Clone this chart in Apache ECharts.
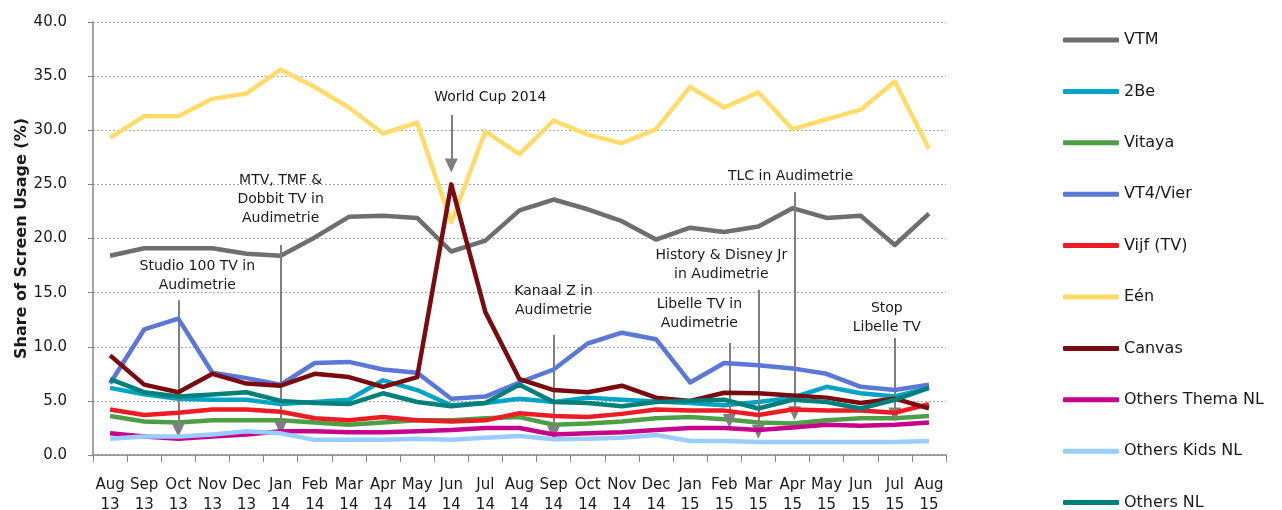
<!DOCTYPE html>
<html>
<head>
<meta charset="utf-8">
<title>Share of Screen Usage</title>
<script src="https://cdn.jsdelivr.net/npm/echarts@6/dist/echarts.min.js"></script>
<style>
  html, body { margin: 0; padding: 0; background: #fff; }
  #chart { width: 1282px; height: 510px; }
</style>
</head>
<body>
<div id="chart"></div>
<script>
// months / years for the x axis (Aug 13 .. Aug 15)
var months = ['Aug', 'Sep', 'Oct', 'Nov', 'Dec', 'Jan', 'Feb', 'Mar', 'Apr', 'May', 'Jun', 'Jul',
  'Aug', 'Sep', 'Oct', 'Nov', 'Dec', 'Jan', 'Feb', 'Mar', 'Apr', 'May', 'Jun', 'Jul', 'Aug']
var years = ['13', '13', '13', '13', '13', '14', '14', '14', '14', '14', '14', '14',
  '14', '14', '14', '14', '14', '15', '15', '15', '15', '15', '15', '15', '15']

var yTicks = [0, 5, 10, 15, 20, 25, 30, 35, 40]

// share of screen usage (%) per channel
var vtm = [18.4, 19.1, 19.1, 19.1, 18.6, 18.4, 20.1, 22.0, 22.1, 21.9, 18.8, 19.8, 22.6, 23.6, 22.7, 21.6, 19.9, 21.0, 20.6, 21.1, 22.8, 21.9, 22.1, 19.4, 22.3]
var twoBe = [6.2, 5.6, 5.2, 5.1, 5.1, 4.7, 4.9, 5.1, 6.9, 6.0, 4.6, 4.8, 5.2, 4.9, 5.3, 5.1, 4.95, 4.8, 4.6, 4.9, 5.3, 6.3, 5.7, 5.4, 6.2]
var vitaya = [3.6, 3.1, 3.0, 3.2, 3.2, 3.2, 3.0, 2.8, 3.0, 3.2, 3.2, 3.4, 3.5, 2.8, 2.9, 3.1, 3.4, 3.5, 3.3, 3.0, 2.9, 3.2, 3.4, 3.4, 3.6]
var vt4 = [6.6, 11.6, 12.6, 7.6, 7.1, 6.5, 8.5, 8.6, 7.9, 7.6, 5.2, 5.4, 6.7, 7.9, 10.3, 11.3, 10.7, 6.7, 8.5, 8.3, 8.0, 7.5, 6.3, 6.0, 6.5]
var vijf = [4.2, 3.7, 3.9, 4.2, 4.2, 4.0, 3.4, 3.2, 3.5, 3.2, 3.1, 3.2, 3.85, 3.6, 3.5, 3.8, 4.2, 4.1, 4.1, 3.7, 4.2, 4.1, 4.1, 3.9, 4.7]
var een = [29.3, 31.3, 31.3, 32.9, 33.4, 35.6, 34.0, 32.1, 29.7, 30.7, 21.5, 29.9, 27.8, 30.9, 29.6, 28.8, 30.1, 34.0, 32.1, 33.5, 30.1, 31.0, 31.9, 34.5, 28.3]
var canvas = [9.2, 6.5, 5.8, 7.5, 6.6, 6.4, 7.5, 7.2, 6.3, 7.2, 25.0, 13.2, 7.0, 6.0, 5.8, 6.4, 5.3, 5.0, 5.75, 5.7, 5.5, 5.3, 4.8, 5.2, 4.3]
var themaNL = [2.0, 1.7, 1.5, 1.7, 1.9, 2.2, 2.2, 2.1, 2.1, 2.2, 2.3, 2.5, 2.5, 1.9, 2.0, 2.1, 2.3, 2.5, 2.5, 2.3, 2.55, 2.8, 2.7, 2.8, 3.0]
var kidsNL = [1.5, 1.7, 1.7, 1.9, 2.2, 2.0, 1.4, 1.4, 1.4, 1.5, 1.4, 1.6, 1.75, 1.45, 1.5, 1.6, 1.85, 1.3, 1.3, 1.2, 1.2, 1.2, 1.2, 1.2, 1.3]
var othersNL = [7.0, 5.8, 5.4, 5.6, 5.8, 5.0, 4.8, 4.7, 5.7, 4.9, 4.5, 4.8, 6.5, 4.9, 4.8, 4.5, 4.9, 5.0, 5.1, 4.3, 5.1, 4.9, 4.3, 5.1, 6.2]

var channels = ['VTM', '2Be', 'Vitaya', 'VT4/Vier', 'Vijf (TV)', 'Eén', 'Canvas', 'Others Thema NL', 'Others Kids NL', 'Others NL']
var values = [vtm, twoBe, vitaya, vt4, vijf, een, canvas, themaNL, kidsNL, othersNL]
var colors = ['#6e6e72', '#00a5c6', '#4d9f45', '#5b77d8', '#ec1c24', '#ffdc6a', '#7a0b0f', '#c6048c', '#99ccff', '#00807a']

// annotations: text, x position (month index), arrow start / arrow head centre (%)
var noteText = ['Studio 100 TV in\nAudimetrie', 'MTV, TMF &\nDobbit TV in\nAudimetrie', 'World Cup 2014',
  'Kanaal Z in\nAudimetrie', 'Libelle TV in\nAudimetrie', 'History & Disney Jr\nin Audimetrie',
  'TLC in Audimetrie', 'Stop\nLibelle TV']
var noteX = [2, 5, 10, 13, 18.15, 19, 20.06, 23]
var noteFrom = [14.3, 19.4, 31.4, 11.1, 10.35, 15.25, 24.3, 10.8]
var noteTo = [2.3, 2.5, 26.75, 2.05, 3.15, 2.15, 3.85, 3.75]

var font = '"DejaVu Sans", Verdana, sans-serif'
var noteShift = [[19, -5], [0, -17], [39, -8], [0, -15], [-30, -10], [-37, -6], [-4, -6], [-8, -1]]

var categories = months.map(function (m, i) { return m + '\n' + years[i] })

var series = channels.map(function (name, i) {
  return {
    name: name,
    type: 'line',
    data: values[i],
    symbol: 'none',
    color: colors[i],
    lineStyle: { width: 4.5, color: colors[i], join: 'round' },
    z: 2 + i
  }
})

var arrows = noteText.map(function (t, i) {
  return [
    { coord: [noteX[i], noteFrom[i]], label: { formatter: t, offset: noteShift[i] } },
    { coord: [noteX[i], noteTo[i]] }
  ]
})

series.push({
  name: 'notes',
  type: 'line',
  xAxisIndex: 1,
  data: [],
  z: 20,
  markLine: {
    silent: true,
    symbol: ['none', 'triangle'],
    symbolSize: [13, 14],
    lineStyle: { color: '#7f7f7f', width: 2, type: 'solid' },
    itemStyle: { color: '#7f7f7f' },
    label: {
      show: true,
      position: 'start',
      distance: 0,
      color: '#1a1a1a',
      fontFamily: font,
      fontSize: 14,
      lineHeight: 19,
      align: 'center'
    },
    emphasis: { disabled: true },
    data: arrows
  }
})

var chart = echarts.init(document.getElementById('chart'))
chart.setOption({
  animation: false,
  textStyle: { fontFamily: font },
  grid: { left: 93, right: 336, top: 22, bottom: 55, outerBoundsMode: 'none', containLabel: false },
  legend: {
    orient: 'vertical',
    left: 1063,
    top: 32,
    height: 600,
    padding: 0,
    itemWidth: 56,
    itemHeight: 5,
    itemGap: 35.4,
    icon: 'roundRect',
    data: channels,
    textStyle: { fontSize: 16, color: '#1a1a1a', fontFamily: font }
  },
  xAxis: [{
    type: 'category',
    data: categories,
    boundaryGap: true,
    axisLine: { lineStyle: { color: '#868686', width: 1.5 } },
    axisTick: { show: true, length: 7, lineStyle: { color: '#868686' } },
    axisLabel: { interval: 0, fontSize: 15, color: '#1a1a1a', lineHeight: 20, margin: 20 }
  }, {
    type: 'value',
    min: -0.5,
    max: 24.5,
    show: false
  }],
  yAxis: {
    type: 'value',
    min: yTicks[0],
    max: yTicks[yTicks.length - 1],
    interval: 5,
    name: 'Share of Screen Usage (%)',
    nameLocation: 'middle',
    nameGap: 63,
    nameMoveOverlap: false,
    nameTextStyle: { fontSize: 16, fontWeight: 'bold', color: '#1a1a1a' },
    axisLine: { show: true, onZero: false, lineStyle: { color: '#868686', width: 1.5 } },
    axisTick: { show: true, length: 5, lineStyle: { color: '#868686' } },
    axisLabel: {
      fontSize: 15,
      color: '#1a1a1a',
      margin: 26,
      formatter: function (v) { return v.toFixed(1) }
    },
    splitLine: { show: true, lineStyle: { color: '#a6a6a6', type: [2, 2], width: 1 } }
  },
  series: series
})
</script>
</body>
</html>
